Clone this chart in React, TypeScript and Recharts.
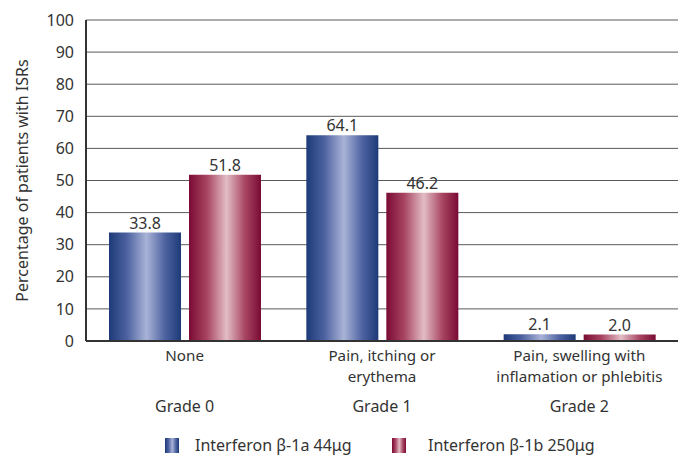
import React from 'react'
import { BarChart, Bar, XAxis, YAxis, CartesianGrid, LabelList, Label } from 'recharts'

// ---- data ----
const categories = ['None', 'Pain, itching or erythema', 'Pain, swelling with inflamation or phlebitis']
const categoryLines = [['None'], ['Pain, itching or', 'erythema'], ['Pain, swelling with', 'inflamation or phlebitis']]
const grades = ['Grade 0', 'Grade 1', 'Grade 2']
const beta1a = [33.8, 64.1, 2.1]
const beta1b = [51.8, 46.2, 2.0]
const yTicks = [0, 10, 20, 30, 40, 50, 60, 70, 80, 90, 100]

const seriesNames = ['Interferon β-1a 44μg', 'Interferon β-1b 250μg']

const data = categories.map((c, i) => ({ name: c, a: beta1a[i], b: beta1b[i] }))

const FONT = '"Noto Sans", "Open Sans", sans-serif'
const TEXT = '#333333'

// two-line category name + grade underneath
const CategoryTick = (props: any) => {
  const { x, y, index } = props
  const lines = categoryLines[index] || []
  return (
    <g transform={`translate(${x},${y})`}>
      <text x={0} y={12} textAnchor="middle" fill={TEXT} fontSize={15.2} fontFamily={FONT}>
        {lines.map((l, i) => (
          <tspan key={i} x={0} dy={i === 0 ? 0 : 20.8}>
            {l}
          </tspan>
        ))}
      </text>
      <text x={0} y={63} textAnchor="middle" fill={TEXT} fontSize={16} fontFamily={FONT}>
        {grades[index]}
      </text>
    </g>
  )
}

const Gradient = ({ id, kind }: { id: string; kind: string }) => {
  const edge = kind === 'blue' ? '#1d3a78' : '#7a0a34'
  const mid = kind === 'blue' ? '#4d62a0' : '#a84562'
  const light = kind === 'blue' ? '#a9b3d7' : '#e2bdc5'
  return (
    <linearGradient id={id} x1="0" y1="0" x2="1" y2="0">
      <stop offset="0%" stopColor={edge} />
      <stop offset="25%" stopColor={mid} />
      <stop offset="52%" stopColor={light} />
      <stop offset="78%" stopColor={mid} />
      <stop offset="100%" stopColor={edge} />
    </linearGradient>
  )
}

const Swatch = ({ id }: { id: string }) => (
  <svg width={14} height={15} style={{ display: 'inline-block', verticalAlign: 'middle' }}>
    <defs>
      <Gradient id={id + '-sw'} kind={id} />
    </defs>
    <rect x={0} y={0} width={14} height={15} fill={`url(#${id}-sw)`} />
  </svg>
)

const App: React.FC = () => {
  return (
    <div style={{ position: 'absolute', left: 0, top: 0, width: 688, height: 456, background: '#fff', overflow: 'hidden' }}>
      <BarChart
        width={688}
        height={456}
        data={data}
        margin={{ top: 20, right: 10, left: 16, bottom: 45 }}
        barCategoryGap={23}
        barGap={8}
      >
        <defs>
          <Gradient id="gBlue" kind="blue" />
          <Gradient id="gRed" kind="red" />
        </defs>
        <CartesianGrid vertical={false} stroke="#5a5a5a" strokeWidth={1} />
        <XAxis
          dataKey="name"
          height={70}
          tick={<CategoryTick />}
          tickLine={false}
          axisLine={{ stroke: '#333', strokeWidth: 2 }}
          interval={0}
        />
        <YAxis
          width={70}
          domain={[0, 100]}
          ticks={yTicks}
          tickLine={false}
          tickMargin={6}
          axisLine={{ stroke: '#333', strokeWidth: 2 }}
          tick={{ fill: TEXT, fontSize: 16, fontFamily: FONT }}
        >
          <Label
            value="Percentage of patients with ISRs"
            angle={-90}
            position="insideLeft"
            offset={6}
            style={{ textAnchor: 'middle', fill: TEXT, fontSize: 16, fontFamily: FONT }}
          />
        </YAxis>
        <Bar dataKey="a" fill="url(#gBlue)" isAnimationActive={false}>
          <LabelList dataKey="a" position="top" offset={4} fill={TEXT} fontSize={16} fontFamily={FONT} formatter={(v: any) => Number(v).toFixed(1)} />
        </Bar>
        <Bar dataKey="b" fill="url(#gRed)" isAnimationActive={false}>
          <LabelList dataKey="b" position="top" offset={4} fill={TEXT} fontSize={16} fontFamily={FONT} formatter={(v: any) => Number(v).toFixed(1)} />
        </Bar>
      </BarChart>
      <div
        style={{
          position: 'absolute',
          top: 435,
          left: 165,
          fontFamily: FONT,
          fontSize: 16,
          lineHeight: '20px',
          color: TEXT,
          display: 'flex',
          alignItems: 'center',
          whiteSpace: 'nowrap',
        }}
      >
        <Swatch id="blue" />
        <span style={{ marginLeft: 16, width: 197 }}>{seriesNames[0]}</span>
        <Swatch id="red" />
        <span style={{ marginLeft: 22 }}>{seriesNames[1]}</span>
      </div>
    </div>
  )
}

export default App
